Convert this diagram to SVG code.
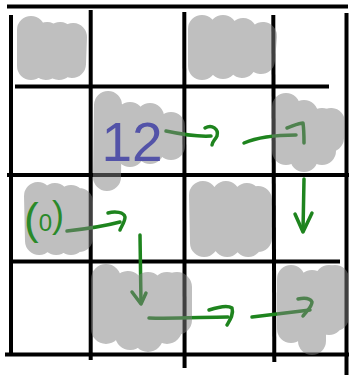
<svg xmlns="http://www.w3.org/2000/svg" width="349" height="375" viewBox="0 0 349 375">
<style>
.grid line{stroke:#000;stroke-width:4;stroke-linecap:butt}
.blob{opacity:0.5}
.blob path{stroke:#808080;fill:none;stroke-linecap:round}
.arr{stroke:#1e841e;stroke-width:3.5;fill:none;stroke-linecap:round;stroke-linejoin:round}
.lbl{font-family:"Liberation Sans",Arial,sans-serif}
</style>
<rect width="349" height="375" fill="#fff"/>
<g id="grid" class="grid">
<line x1="7" y1="6.5" x2="348" y2="6.5"/>
<line x1="15" y1="86.5" x2="329" y2="86.5"/>
<line x1="7" y1="175" x2="349" y2="175"/>
<line x1="12" y1="261.5" x2="340" y2="261.5"/>
<line x1="5" y1="354.5" x2="349" y2="354.5"/>
<line x1="11" y1="15" x2="11" y2="354"/>
<line x1="90.7" y1="10" x2="90.7" y2="360"/>
<line x1="184.3" y1="12" x2="184.6" y2="368"/>
<line x1="273.3" y1="15" x2="274.3" y2="362"/>
<line x1="346.5" y1="13" x2="346.5" y2="375"/>
</g>
<g id="connectors">
<path class="arr" d="M166,131 C180,134 195,137 211,136"/>
<path class="arr" d="M205,128 C212,124 219,129 217,136 C215,140 212,142 212,145"/>
<path class="arr" d="M244,143 C258,137 275,135 296,135"/>
<path class="arr" d="M287,128 C293,126 299,123 303,123 C304,130 304,137 304,143"/>
<path class="arr" d="M304,179 L303,231"/>
<path class="arr" d="M295,214 L303,232 L312,213"/>
<path class="arr" d="M67,231 C85,229 105,226 120,222"/>
<path class="arr" d="M108,213 C115,211 124,212 125,217 C125,222 121,227 120,230"/>
<path class="arr" d="M140,235 L141,303"/>
<path class="arr" d="M132,292 L141,304 L146,293"/>
<path class="arr" d="M149,318 C175,319 205,317 228,317"/>
<path class="arr" d="M209,310 C218,307 228,305 232,308 C234,314 230,320 227,325"/>
<path class="arr" d="M252,317 C270,315 292,312 310,310"/>
<path class="arr" d="M298,299 C303,298 310,298 312,302 C312,307 306,312 303,316"/>
</g>
<g id="node-r1c1" class="blob">
<path stroke-width="28" d="M31,30 L31,66 M47,36 L46,66 M60,36 L59,66 M73,37 L72,64"/>
</g>
<g id="node-r1c3" class="blob">
<path stroke-width="28" d="M202,29 L202,66 M223,29 L223,65 M243,32 L242,64 M263,36 L261,60"/>
</g>
<g id="node-r2c2" class="blob">
<path stroke-width="28" d="M108,105 L107,177 M130,116 L130,153 M150,117 L150,150 M171,126 L171,146"/>
</g>
<g id="node-r2c4" class="blob">
<path stroke-width="28" d="M286,107 L286,151 M304,114 L304,158 M322,122 L322,151 M331,122 L330,138"/>
</g>
<g id="node-r3c1" class="blob">
<path stroke-width="28" d="M38,196 L39,241 M55,197 L56,241 M71,199 L71,241 M79,202 L79,238"/>
</g>
<g id="node-r3c3" class="blob">
<path stroke-width="28" d="M203,195 L204,243 M226,195 L227,243 M247,197 L248,243 M258,200 L258,238"/>
</g>
<g id="node-r4c2" class="blob">
<path stroke-width="30" d="M106,279 L106,329 M128,286 L130,335 M148,287 L148,337 M167,287 L167,329 M177,287 L177,320"/>
</g>
<g id="node-r4c4" class="blob">
<path stroke-width="28" d="M291,279 L291,329 M312,284 L312,341 M329,279 L329,321 M335,279 L335,317"/>
</g>
<g id="labels" class="lbl">
<text x="132" y="161" font-size="55" fill="#5353a8" text-anchor="middle">12</text>
<text x="24" y="234" font-size="44" fill="#2a8a2a">(<tspan font-size="24" dy="-3">0</tspan><tspan font-size="36" dy="-4">)</tspan></text>
</g>
</svg>
